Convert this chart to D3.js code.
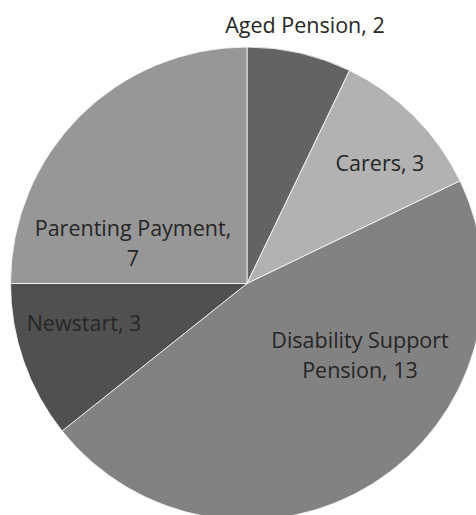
<!DOCTYPE html>
<html>
<head>
<meta charset="utf-8">
<script src="https://cdn.jsdelivr.net/npm/d3@7"></script>
<style>
  html, body { margin: 0; padding: 0; background: #ffffff; }
  svg { display: block; }
  text { font-family: "Open Sans", "Liberation Sans", sans-serif; fill: #262626; }
</style>
</head>
<body>
<svg id="chart" width="476" height="515"></svg>
<script>
// ---- data ----
const categories = ["Aged Pension", "Carers", "Disability Support Pension", "Newstart", "Parenting Payment"];
const values = [2, 3, 13, 3, 7];
const labelLines = [
  ["Aged Pension, 2"],
  ["Carers, 3"],
  ["Disability Support", "Pension, 13"],
  ["Newstart, 3"],
  ["Parenting Payment,", "7"]
];

// ---- layout / style ----
const colors = ["#636363", "#b2b2b2", "#828282", "#505050", "#979797"];
const cx = 247, cy = 283.5, radius = 236.5;
// label anchor (centre x, first baseline y)
const labelAnchor = [
  [305, 33],
  [380, 171],
  [360, 348],
  [84, 331],
  [133, 236]
];
const lineGap = 30;

const svg = d3.select("#chart");
const g = svg.append("g").attr("transform", `translate(${cx},${cy})`);

const data = categories.map((c, i) => ({ name: c, value: values[i], i }));
const pie = d3.pie().value(d => d.value).sort(null);
const arc = d3.arc().innerRadius(0).outerRadius(radius);
const color = d3.scaleOrdinal().domain(categories).range(colors);

g.selectAll("path")
  .data(pie(data))
  .join("path")
  .attr("d", arc)
  .attr("fill", d => color(d.data.name))
  .attr("stroke", "#ffffff")
  .attr("stroke-width", 0.8);

const labels = svg.append("g");
data.forEach((d, i) => {
  const t = labels.append("text")
    .attr("text-anchor", "middle")
    .attr("font-size", 21.5);
  labelLines[i].forEach((line, k) => {
    t.append("tspan")
      .attr("x", labelAnchor[i][0])
      .attr("y", labelAnchor[i][1] + k * lineGap)
      .text(line);
  });
});
</script>
</body>
</html>
